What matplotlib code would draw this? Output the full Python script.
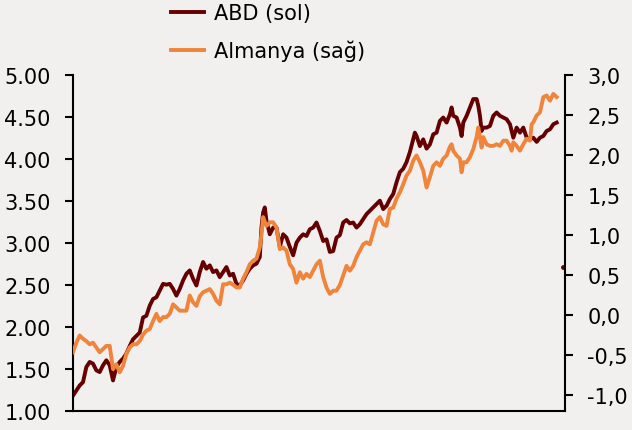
import matplotlib.pyplot as plt
from matplotlib.ticker import FixedLocator, FuncFormatter

# zaman ekseni (işlem günü sırası)
gun = [0, 2, 4, 6, 8, 10, 12, 14, 16, 18,
       20, 22, 24, 26, 28, 30, 32, 34, 36, 38,
       40, 42, 44, 46, 48, 50, 52, 54, 56, 58,
       60, 62, 64, 66, 68, 70, 72, 74, 76, 78,
       80, 82, 84, 86, 88, 90, 92, 94, 96, 98,
       100, 102, 104, 106, 108, 110, 112, 113, 114, 115,
       116, 118, 120, 122, 124, 126, 128, 130, 132, 134,
       136, 138, 140, 142, 144, 146, 148, 150, 152, 154,
       156, 158, 160, 162, 164, 166, 168, 170, 172, 174,
       176, 178, 180, 182, 184, 186, 188, 190, 192, 194,
       196, 198, 200, 202, 204, 205, 206, 208, 210, 212,
       214, 216, 218, 220, 222, 224, 226, 227, 228, 230,
       232, 233, 234, 236, 238, 240, 242, 243, 244, 245,
       246, 248, 250, 252, 254, 256, 258, 260, 262, 263,
       264, 266, 268, 270, 272, 274, 275, 276, 278, 280,
       282, 284, 286, 288, 290]

# ABD 10 yıllık getiri (sol eksen)
abd = [1.18, 1.24, 1.30, 1.34, 1.52, 1.58, 1.56, 1.48, 1.46, 1.54,
       1.60, 1.54, 1.36, 1.52, 1.58, 1.62, 1.68, 1.77, 1.85, 1.89,
       1.93, 2.11, 2.13, 2.25, 2.33, 2.35, 2.43, 2.51, 2.50, 2.51,
       2.45, 2.37, 2.45, 2.55, 2.63, 2.67, 2.57, 2.49, 2.65, 2.77,
       2.69, 2.73, 2.65, 2.67, 2.59, 2.65, 2.71, 2.61, 2.63, 2.51,
       2.49, 2.55, 2.63, 2.69, 2.73, 2.75, 2.83, 3.18, 3.36, 3.42,
       3.26, 3.10, 3.18, 3.18, 2.95, 3.10, 3.06, 2.95, 2.85, 3.00,
       3.06, 3.10, 3.08, 3.16, 3.18, 3.24, 3.14, 3.02, 3.04, 2.89,
       2.90, 3.06, 3.09, 3.24, 3.27, 3.23, 3.24, 3.18, 3.22, 3.28,
       3.34, 3.38, 3.42, 3.46, 3.50, 3.40, 3.44, 3.52, 3.58, 3.72,
       3.84, 3.88, 3.96, 4.08, 4.23, 4.31, 4.27, 4.15, 4.23, 4.12,
       4.17, 4.29, 4.31, 4.45, 4.49, 4.43, 4.53, 4.61, 4.51, 4.49,
       4.37, 4.27, 4.43, 4.51, 4.61, 4.71, 4.71, 4.63, 4.51, 4.33,
       4.37, 4.37, 4.39, 4.51, 4.55, 4.51, 4.49, 4.47, 4.41, 4.33,
       4.25, 4.37, 4.31, 4.37, 4.25, 4.23, 4.24, 4.25, 4.20, 4.25,
       4.27, 4.33, 4.35, 4.41, 4.43]

# Almanya 10 yıllık getiri (sağ eksen)
almanya = [-0.47, -0.35, -0.26, -0.30, -0.33, -0.37, -0.35, -0.41, -0.47, -0.43,
           -0.39, -0.39, -0.68, -0.62, -0.72, -0.64, -0.49, -0.41, -0.37, -0.37,
           -0.33, -0.25, -0.20, -0.18, -0.08, 0.01, -0.08, -0.03, -0.03, 0.01,
           0.13, 0.09, 0.05, 0.05, 0.05, 0.24, 0.155, 0.11, 0.23, 0.28,
           0.30, 0.32, 0.26, 0.175, 0.13, 0.38, 0.38, 0.40, 0.375, 0.34,
           0.34, 0.45, 0.53, 0.63, 0.675, 0.70, 0.84, 1.00, 1.22, 1.16,
           1.11, 1.155, 1.155, 1.09, 0.82, 0.84, 0.80, 0.63, 0.57, 0.40,
           0.53, 0.45, 0.51, 0.47, 0.55, 0.63, 0.675, 0.47, 0.34, 0.26,
           0.30, 0.30, 0.37, 0.49, 0.61, 0.55, 0.61, 0.72, 0.80, 0.88,
           0.905, 0.88, 1.03, 1.175, 1.22, 1.13, 1.11, 1.32, 1.34, 1.45,
           1.53, 1.63, 1.74, 1.80, 1.925, 1.96, 1.99, 1.905, 1.80, 1.59,
           1.72, 1.86, 1.905, 1.86, 1.95, 1.99, 2.10, 2.13, 2.05, 1.99,
           1.95, 1.78, 1.905, 1.905, 1.97, 2.07, 2.22, 2.34, 2.22, 2.09,
           2.22, 2.13, 2.11, 2.11, 2.13, 2.11, 2.175, 2.175, 2.11, 2.05,
           2.155, 2.11, 2.05, 2.13, 2.20, 2.175, 2.38, 2.405, 2.49, 2.53,
           2.72, 2.74, 2.675, 2.76, 2.72]

# sağ eksendeki tek nokta
nokta_gun = [294]
nokta_deger = [0.60]

sol_ticks = [1.0, 1.5, 2.0, 2.5, 3.0, 3.5, 4.0, 4.5, 5.0]
sag_ticks = [-1.0, -0.5, 0.0, 0.5, 1.0, 1.5, 2.0, 2.5, 3.0]

koyu = "#660000"
turuncu = "#f0843a"
zemin = "#f2f0ef"

plt.rcParams["font.family"] = ["DejaVu Sans"]

fig = plt.figure(figsize=(6.32, 4.31), dpi=100, facecolor=zemin)
ax = fig.add_axes([0.1155, 0.0448, 0.7785, 0.7796])
ax.set_facecolor(zemin)
ax2 = ax.twinx()

l1, = ax.plot(gun, abd, color=koyu, lw=2.8, solid_joinstyle="round", label="ABD (sol)")
l2, = ax2.plot(gun, almanya, color=turuncu, lw=2.8, solid_joinstyle="round", label="Almanya (sağ)")
ax2.plot(nokta_gun, nokta_deger, "o", color=koyu, ms=2.5, clip_on=False)

ax.set_xlim(0, 295)
ax.set_ylim(1.0, 5.0)
ax2.set_ylim(-1.2, 3.0)

ax.yaxis.set_major_locator(FixedLocator(sol_ticks))
ax.yaxis.set_major_formatter(FuncFormatter(lambda v, p: f"{v:.2f}"))
ax2.yaxis.set_major_locator(FixedLocator(sag_ticks))
ax2.yaxis.set_major_formatter(FuncFormatter(lambda v, p: f"{v:.1f}".replace(".", ",")))

ax.set_xticks([])
for a in (ax, ax2):
    a.spines["top"].set_visible(False)
    for s in a.spines.values():
        s.set_linewidth(1.5)
    a.tick_params(axis="y", direction="out", length=6, width=1.5, pad=10,
                  labelsize=15, colors="black")
ax.spines["right"].set_visible(False)
ax2.spines["left"].set_visible(False)
ax2.spines["bottom"].set_visible(False)

fig.legend(handles=[l1, l2], loc="upper left", bbox_to_anchor=(0.248, 1.025),
           frameon=False, fontsize=15, handlelength=1.55, handletextpad=0.5,
           labelspacing=0.8, borderpad=0.2)

fig.savefig("out.png", dpi=100, facecolor=zemin)
